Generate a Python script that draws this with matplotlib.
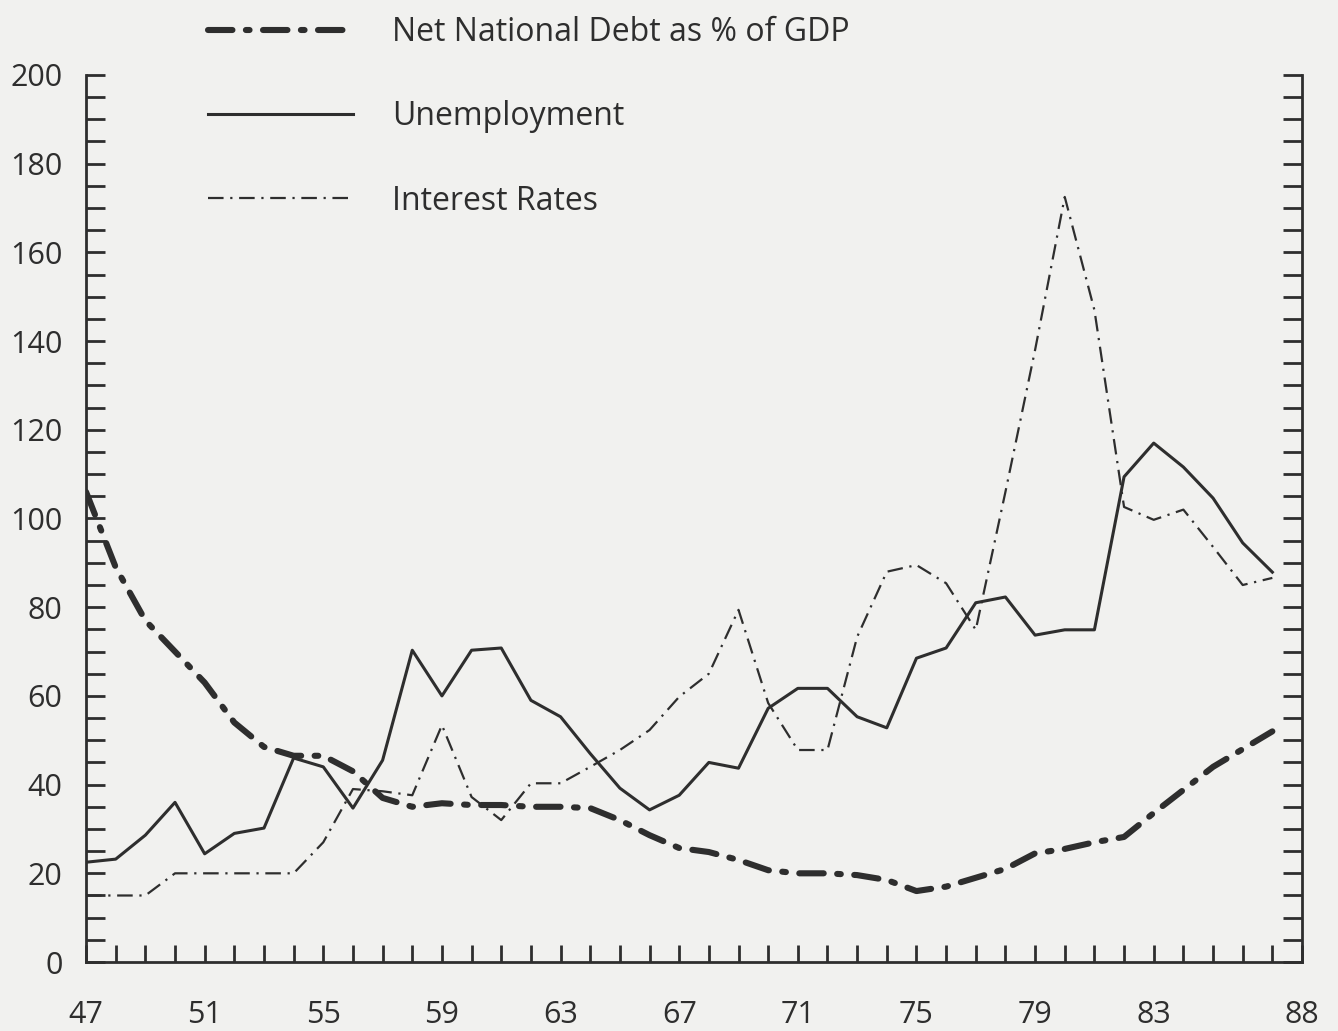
import numpy as np
import matplotlib.pyplot as plt
from matplotlib.ticker import MultipleLocator

years = np.arange(47, 88)

debt = [106, 89, 77, 70, 63, 54, 48.5, 46.5, 46.5, 43, 37, 35, 35.8, 35.4, 35.4, 35,
        35, 34.7, 32, 28.6, 25.7, 24.8, 23, 20.7, 20, 20, 19.6, 18.5, 16, 17,
        19, 21, 24.5, 25.5, 27, 28.2, 33.6, 38.8, 44, 48, 52]

unemployment = [22.5, 23.2, 28.6, 36, 24.4, 29, 30.2, 46, 44, 34.7, 45.5, 70.3, 60, 70.3,
                70.8, 59, 55.3, 47, 39.2, 34.3, 37.6, 45, 43.7, 57.2, 61.7, 61.7, 55.3,
                52.8, 68.5, 70.8, 81, 82.3, 73.7, 74.9, 74.9, 109.4, 117, 111.6, 104.6,
                94.5, 87.9]

interest = [15, 15, 15, 20, 20, 20, 20, 20, 27, 39, 38.5, 37.6, 53.4, 37.2, 32, 40.3,
            40.3, 44, 47.8, 52.3, 59.8, 65, 79.4, 58.4, 47.8, 47.8, 73.3, 88, 89.5,
            85.4, 74.9, 106, 138, 172.5, 147, 102.6, 99.7, 102, 93.6, 85, 86.6]

xtick_labels = [47, 51, 55, 59, 63, 67, 71, 75, 79, 83, 88]

ink = "#2e2e2e"
paper = "#f1f1ef"

plt.rcParams['font.family'] = ['Open Sans', 'DejaVu Sans']

fig = plt.figure(figsize=(13.38, 10.31), dpi=100, facecolor=paper)
ax = fig.add_axes([0.0643, 0.0669, 0.9088, 0.8604], facecolor=paper)

ax.plot(years, debt, color=ink, linewidth=4.4, dashes=(4, 2.2, 0.6, 2.2),
        dash_capstyle='round', label="Net National Debt as % of GDP")
ax.plot(years, unemployment, color=ink, linewidth=2.2, label="Unemployment")
ax.plot(years, interest, color=ink, linewidth=1.6, dashes=(7, 3, 1, 3),
        label="Interest Rates")

ax.set_xlim(47, 88)
ax.set_ylim(0, 200)

ax.spines['top'].set_visible(False)
for s in ['left', 'right', 'bottom']:
    ax.spines[s].set_linewidth(2)
    ax.spines[s].set_color(ink)

ax.yaxis.set_major_locator(MultipleLocator(20))
ax.yaxis.set_minor_locator(MultipleLocator(5))
ax.set_xticks(xtick_labels)
ax.set_xticklabels([str(v) for v in xtick_labels])
ax.xaxis.set_minor_locator(MultipleLocator(1))

ax.tick_params(axis='y', which='both', direction='in', length=14, width=2,
               color=ink, left=True, right=True, labelleft=True, labelright=False,
               labelsize=22, labelcolor=ink, pad=17)
ax.tick_params(axis='x', which='both', direction='in', length=12, width=2,
               color=ink, top=False, labelsize=22, labelcolor=ink, pad=27)

leg = ax.legend(loc='upper left', bbox_to_anchor=(0.134, 1.012),
                bbox_transform=fig.transFigure, frameon=False, fontsize=23,
                handlelength=4.55, handletextpad=1.2, labelspacing=1.6)
for t in leg.get_texts():
    t.set_color(ink)

fig.savefig("out.png", dpi=100, facecolor=paper)
